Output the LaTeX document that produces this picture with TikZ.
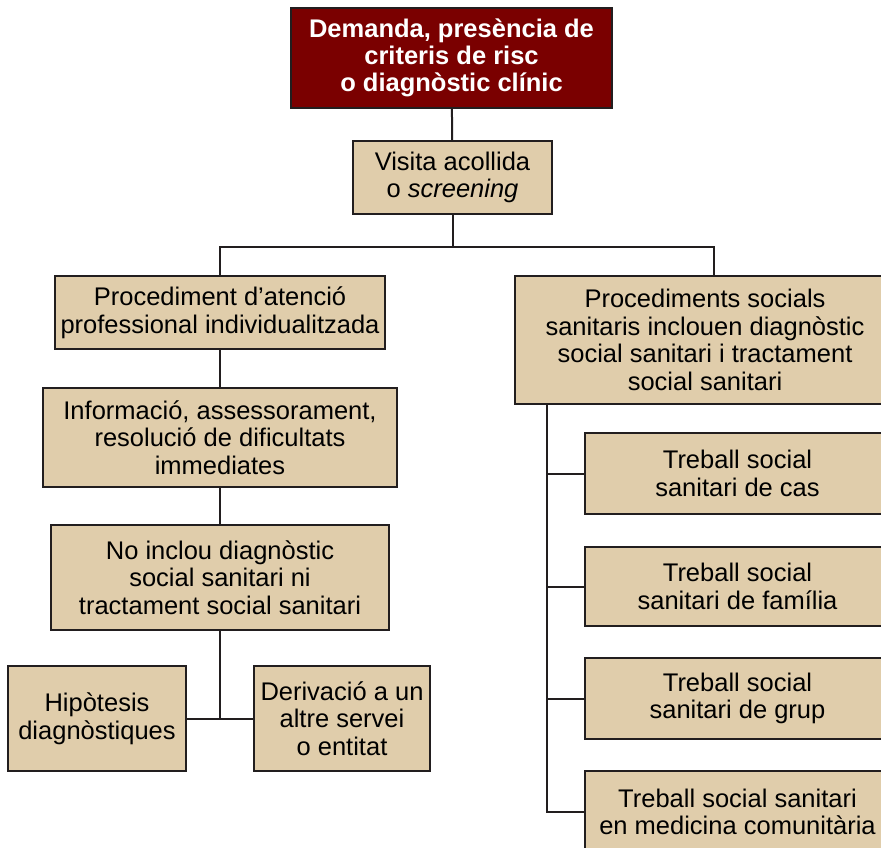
\documentclass[tikz,border=0pt]{standalone}
\usepackage{fontspec}
\setmainfont{Liberation Sans}
\usepackage{tikz}
\usetikzlibrary{
  calc,
  positioning,
}
\definecolor{boxtan}{RGB}{224, 205, 171}
\definecolor{boxred}{RGB}{122, 0, 0}
\definecolor{boxedge}{RGB}{34, 30, 31}
\tikzstyle{box} = [
  rectangle,
  draw=boxedge,
  line width=2pt,
  fill=boxtan,
  align=center,
  inner sep=0pt,
  font=\fontsize{25.5}{27.5}\selectfont,
]
\tikzstyle{topbox} = [
  box,
  fill=boxred,
  text=white,
  font=\fontsize{25.5}{27}\selectfont\bfseries,
]
\tikzstyle{link} = [
  line width=2pt,
  boxedge,
]

\begin{document}
\begin{tikzpicture}[x=1pt,y=-1pt]

        \clip (0,0) rectangle (881,847);

        \node[topbox,minimum width=321,minimum height=100] (demanda) at (451.5,58) {Demanda, presència de\\criteris de risc\\o diagnòstic clínic};
        \node[box,minimum width=199,minimum height=73] (visita) at (452.5,177.5) {Visita acollida\\o \textit{screening}};

        \node[box,minimum width=330,minimum height=73] (atencio) at (220,312.5) {Procediment d’atenció\\professional individualitzada};
        \node[box,minimum width=354,minimum height=99] (informacio) at (220,437.5) {Informació, assessorament,\\resolució de dificultats\\immediates};
        \node[box,minimum width=338,minimum height=105] (noinclou) at (220,577.5) {No inclou diagnòstic\\social sanitari ni\\tractament social sanitari};
        \node[box,minimum width=178,minimum height=105] (hipotesis) at (97,718.5) {Hipòtesis\\diagnòstiques};
        \node[box,minimum width=176,minimum height=105] (derivacio) at (342,718.5) {Derivació a un\\altre servei\\o entitat};

        \node[box,minimum width=380,minimum height=128] (socials) at (705,340) {Procediments socials\\sanitaris inclouen diagnòstic\\social sanitari i tractament\\social sanitari};
        \node[box,minimum width=305,minimum height=81] (cas) at (737.5,473.5) {Treball social\\sanitari de cas};
        \node[box,minimum width=305,minimum height=79] (familia) at (737.5,586.5) {Treball social\\sanitari de família};
        \node[box,minimum width=305,minimum height=81] (grup) at (737.5,698.5) {Treball social\\sanitari de grup};
        \node[box,minimum width=305,minimum height=82] (comunitaria) at (737.5,812) {Treball social sanitari\\en medicina comunitària};

        \coordinate (split) at ([yshift=-32pt]visita.south);
        \coordinate (trunk) at ([xshift=33pt]socials.south west);

        \draw[link] (demanda) -- (visita);
        \draw[link] (visita) -- (split);
        \draw[link] (atencio.north) |- (split) -| ([xshift=9pt]socials.north);

        \draw[link] (atencio) -- (informacio);
        \draw[link] (informacio) -- (noinclou);
        \draw[link] (noinclou) -- (noinclou.south |- hipotesis.east);
        \draw[link] (hipotesis) -- (derivacio);

        \foreach \n in {cas,familia,grup,comunitaria}
          \draw[link] (trunk) |- (\n.west);

      \end{tikzpicture}
\end{document}
